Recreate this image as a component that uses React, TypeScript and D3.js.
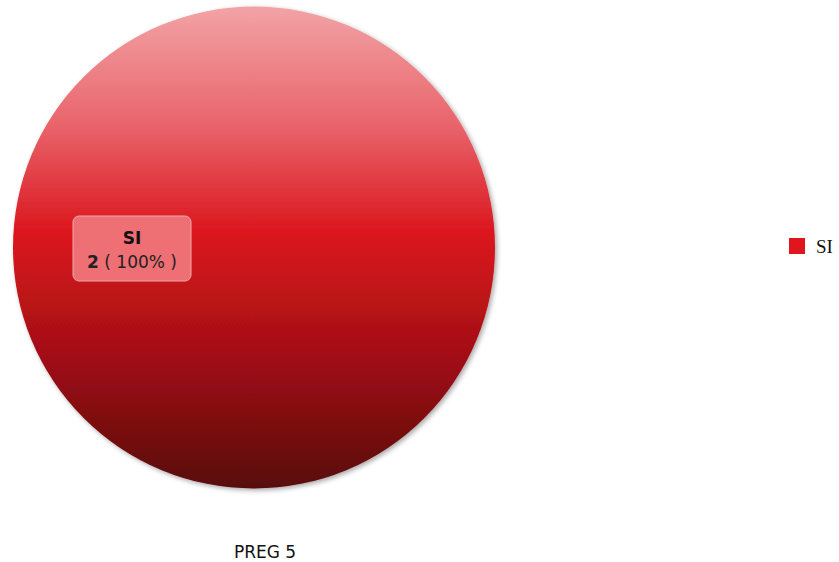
import React, { useEffect, useRef } from 'react'
import * as d3 from 'd3'

const categories = ['SI']
const values = [2]
const colors = ['#e0161e']
const chartTitle = 'PREG 5'

const W = 839
const H = 562

const App: React.FC = () => {
  const svgRef = useRef<SVGSVGElement>(null)

  useEffect(() => {
    if (!svgRef.current) return
    const svg = d3.select(svgRef.current)
    svg.selectAll('*').remove()

    const cx = 254
    const cy = 247.5
    const r = 241

    const defs = svg.append('defs')
    const grad = defs.append('linearGradient')
      .attr('id', 'pieGrad')
      .attr('x1', 0).attr('y1', 0).attr('x2', 0).attr('y2', 1)
    grad.append('stop').attr('offset', '0%').attr('stop-color', '#f2a3a6')
    grad.append('stop').attr('offset', '25%').attr('stop-color', '#e8636a')
    grad.append('stop').attr('offset', '47%').attr('stop-color', '#db161d')
    grad.append('stop').attr('offset', '75%').attr('stop-color', '#9c0f14')
    grad.append('stop').attr('offset', '100%').attr('stop-color', '#58070a')

    const shadow = defs.append('filter').attr('id', 'shadow')
      .attr('x', '-10%').attr('y', '-10%').attr('width', '120%').attr('height', '120%')
    shadow.append('feGaussianBlur').attr('in', 'SourceAlpha').attr('stdDeviation', 2.5)
    shadow.append('feOffset').attr('dx', 2).attr('dy', 2).attr('result', 'off')
    shadow.append('feComponentTransfer').append('feFuncA').attr('type', 'linear').attr('slope', 0.35)
    const merge = shadow.append('feMerge')
    merge.append('feMergeNode')
    merge.append('feMergeNode').attr('in', 'SourceGraphic')

    const pie = d3.pie<number>().sort(null)(values)
    const arc = d3.arc<d3.PieArcDatum<number>>().innerRadius(0).outerRadius(r)
    const total = d3.sum(values)

    const g = svg.append('g').attr('transform', `translate(${cx},${cy})`)
    g.selectAll('path')
      .data(pie)
      .enter()
      .append('path')
      .attr('d', arc)
      .attr('fill', 'url(#pieGrad)')
      .attr('filter', 'url(#shadow)')

    // Label box
    const font = "'DejaVu Sans', sans-serif"
    const lbl = svg.append('g').attr('transform', 'translate(132,248)')
    lbl.append('rect')
      .attr('x', -59).attr('y', -32).attr('width', 118).attr('height', 65)
      .attr('rx', 6)
      .attr('fill', '#ee6f74')
      .attr('stroke', '#f3a7aa')
      .attr('stroke-width', 1)
    lbl.append('text')
      .attr('y', -4)
      .attr('text-anchor', 'middle')
      .style('font-family', font)
      .style('font-size', '17px')
      .style('font-weight', 'bold')
      .style('fill', '#111')
      .text(categories[0])
    const t2 = lbl.append('text')
      .attr('y', 20)
      .attr('text-anchor', 'middle')
      .style('font-family', font)
      .style('font-size', '17px')
      .style('fill', '#222')
    t2.append('tspan').style('font-weight', 'bold').text(`${values[0]}`)
    t2.append('tspan').text(` ( ${Math.round((values[0] / total) * 100)}% )`)

    // Legend
    const legend = svg.append('g').attr('transform', 'translate(789,238)')
    legend.selectAll('rect')
      .data(categories)
      .enter()
      .append('rect')
      .attr('y', (d, i) => i * 24)
      .attr('width', 16)
      .attr('height', 16)
      .attr('fill', (d, i) => colors[i])
    legend.selectAll('text')
      .data(categories)
      .enter()
      .append('text')
      .attr('x', 27)
      .attr('y', (d, i) => i * 24 + 15)
      .style('font-family', "'Liberation Serif', serif")
      .style('font-size', '19px')
      .style('fill', '#111')
      .text(d => d)

    // Title
    svg.append('text')
      .attr('x', 265)
      .attr('y', 558)
      .attr('text-anchor', 'middle')
      .style('font-family', font)
      .style('font-size', '17px')
      .style('fill', '#111')
      .text(chartTitle)
  }, [])

  return (
    <svg
      ref={svgRef}
      width={W}
      height={H}
      style={{ position: 'fixed', left: 0, top: 0, background: '#fff' }}
    />
  )
}

export default App
